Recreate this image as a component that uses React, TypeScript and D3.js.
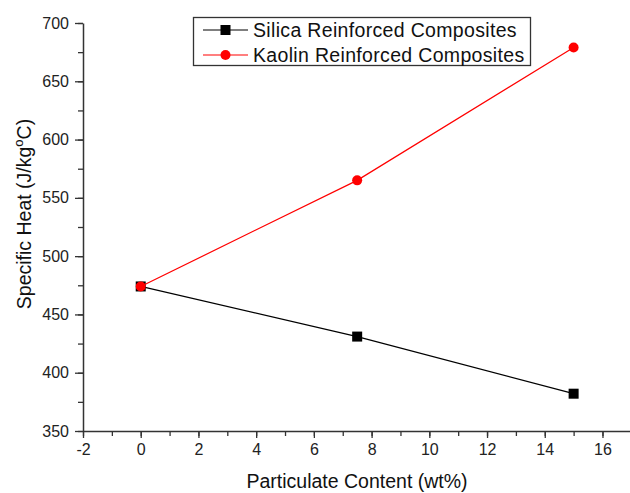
import { useEffect, useRef } from 'react'
import * as d3 from 'd3'

const contents = [0, 7.5, 15]
const silicaHeat = [474, 431, 382]
const kaolinHeat = [474, 565, 679]
const seriesNames = ['Silica Reinforced Composites', 'Kaolin Reinforced Composites']
const xTicks = [-2, 0, 2, 4, 6, 8, 10, 12, 14, 16]
const yTicks = [350, 400, 450, 500, 550, 600, 650, 700]

const App = () => {
  const svgRef = useRef<SVGSVGElement | null>(null)

  useEffect(() => {
    const svg = d3.select(svgRef.current)
    svg.selectAll('*').remove()

    const height = 493
    const margin = { top: 23, bottom: 62, left: 83 }
    const font = 'Arial, "Liberation Sans", sans-serif'

    const x = d3.scaleLinear().domain([-2, 17]).range([margin.left, margin.left + 28.86 * 19])
    const y = d3.scaleLinear().domain([350, 700]).range([height - margin.bottom, margin.top])

    const g = svg.append('g')

    // x axis
    const xAxis = g.append('g').attr('transform', `translate(0,${y(350)})`)
    xAxis
      .call(d3.axisBottom(x).tickValues(d3.range(-2, 18, 1)).tickSize(5).tickFormat(() => ''))
      .select('.domain')
      .remove()
    xAxis
      .append('g')
      .call(
        d3
          .axisBottom(x)
          .tickValues(xTicks)
          .tickSize(7)
          .tickSizeOuter(0)
          .tickPadding(6)
          .tickFormat((d) => String(d))
      )
      .call((s) => s.selectAll('text').attr('font-size', 16).attr('font-family', font).attr('fill', '#222'))
    xAxis.selectAll('line').attr('stroke', '#333').attr('stroke-width', 1.3)
    xAxis.selectAll('.domain').attr('stroke', '#333').attr('stroke-width', 1.5)

    // y axis
    const yAxis = g.append('g').attr('transform', `translate(${x(-2)},0)`)
    yAxis
      .call(d3.axisLeft(y).tickValues(d3.range(350, 701, 25)).tickSize(5).tickFormat(() => ''))
      .select('.domain')
      .remove()
    yAxis
      .append('g')
      .call(
        d3
          .axisLeft(y)
          .tickValues(yTicks)
          .tickSize(8)
          .tickSizeOuter(0)
          .tickPadding(6)
          .tickFormat((d) => String(d))
      )
      .call((s) => s.selectAll('text').attr('font-size', 16).attr('font-family', font).attr('fill', '#222'))
    yAxis.selectAll('line').attr('stroke', '#333').attr('stroke-width', 1.3)
    yAxis.selectAll('.domain').attr('stroke', '#333').attr('stroke-width', 1.5)

    // titles
    svg
      .append('text')
      .attr('x', 357)
      .attr('y', 488)
      .attr('text-anchor', 'middle')
      .attr('font-size', 19.5)
      .attr('font-family', font)
      .attr('fill', '#111')
      .text('Particulate Content (wt%)')

    const yt = svg
      .append('text')
      .attr('transform', `translate(31,214) rotate(-90)`)
      .attr('text-anchor', 'middle')
      .attr('font-size', 19.5)
      .attr('font-family', font)
      .attr('fill', '#111')
    yt.append('tspan').text('Specific Heat (J/kg')
    yt.append('tspan').attr('dy', -8).attr('font-size', 13).text('o')
    yt.append('tspan').attr('dy', 8).text('C)')

    const series = [
      { name: seriesNames[0], values: silicaHeat, color: '#000000', shape: 'square' },
      { name: seriesNames[1], values: kaolinHeat, color: '#ff0000', shape: 'circle' },
    ]

    const line = d3
      .line<number>()
      .x((_, i) => x(contents[i]))
      .y((d) => y(d))

    const drawMarker = (sel: any, shape: string, color: string, cx: number, cy: number) => {
      if (shape === 'square') {
        sel.append('rect').attr('x', cx - 5).attr('y', cy - 5).attr('width', 10).attr('height', 10).attr('fill', color)
      } else {
        sel.append('circle').attr('cx', cx).attr('cy', cy).attr('r', 5).attr('fill', color)
      }
    }

    series.forEach((s) => {
      g.append('path')
        .datum(s.values)
        .attr('fill', 'none')
        .attr('stroke', s.color)
        .attr('stroke-width', 1.2)
        .attr('d', line)
      const mg = g.append('g')
      s.values.forEach((v, i) => drawMarker(mg, s.shape, s.color, x(contents[i]), y(v)))
    })

    // legend
    const lg = svg.append('g')
    lg.append('rect')
      .attr('x', 193.5)
      .attr('y', 17.5)
      .attr('width', 337)
      .attr('height', 48)
      .attr('fill', '#fff')
      .attr('stroke', '#333')
      .attr('stroke-width', 1.3)
    series.forEach((s, i) => {
      const cy = 30 + i * 25
      lg.append('line')
        .attr('x1', 203)
        .attr('x2', 248)
        .attr('y1', cy)
        .attr('y2', cy)
        .attr('stroke', s.color)
        .attr('stroke-width', 1.2)
      drawMarker(lg, s.shape, s.color, 225.5, cy)
      lg.append('text')
        .attr('x', 253)
        .attr('y', cy + 6.5)
        .attr('font-size', 19.5)
        .attr('letter-spacing', 0.33)
        .attr('font-family', font)
        .attr('fill', '#111')
        .text(s.name)
    })
  }, [])

  return (
    <svg
      ref={svgRef}
      width={630}
      height={493}
      style={{ display: 'block', position: 'absolute', left: 0, top: 0 }}
    />
  )
}

export default App
